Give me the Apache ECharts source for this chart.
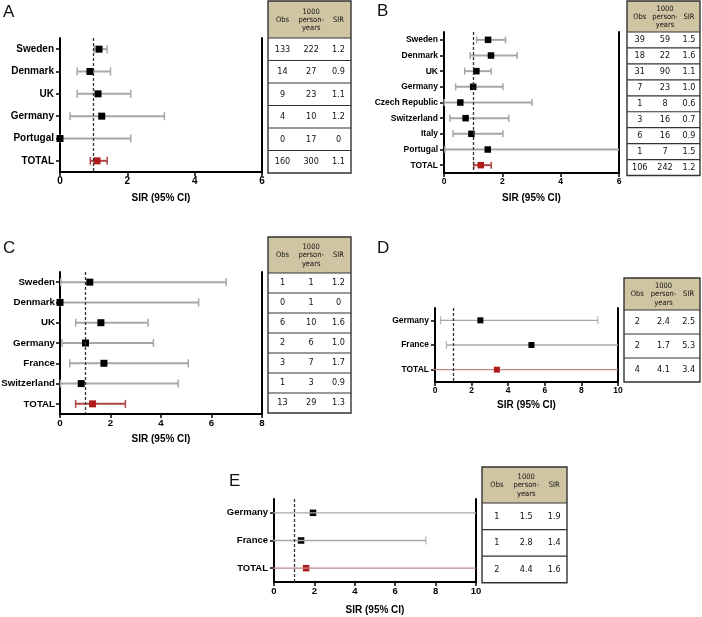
<!DOCTYPE html>
<html><head><meta charset="utf-8">
<script src="https://cdn.jsdelivr.net/npm/echarts@6/dist/echarts.min.js"></script>
<style>html,body{margin:0;padding:0;background:#fff}#c{width:702px;height:617px}</style>
</head><body><div id="c"></div>
<script>
// ---------- DATA ----------
const aCountries = ['Sweden','Denmark','UK','Germany','Portugal','TOTAL'];
const aSir  = [1.16, 0.89, 1.13, 1.24, 0, 1.1];
const aLow  = [1.02, 0.51, 0.51, 0.30, 0, 0.90];
const aHigh = [1.40, 1.50, 2.10, 3.10, 2.10, 1.40];
const aObs  = ['133','14','9','4','0','160'];
const aPy   = ['222','27','23','10','17','300'];
const aSirT = ['1.2','0.9','1.1','1.2','0','1.1'];

const bCountries = ['Sweden','Denmark','UK','Germany','Czech Republic','Switzerland','Italy','Portugal','TOTAL'];
const bSir  = [1.51, 1.61, 1.11, 1.00, 0.56, 0.74, 0.94, 1.50, 1.26];
const bLow  = [1.12, 0.90, 0.71, 0.40, 0.01, 0.20, 0.31, 0.03, 1.02];
const bHigh = [2.11, 2.51, 1.62, 2.02, 3.02, 2.22, 2.02, 8.40, 1.62];
const bObs  = ['39','18','31','7','1','3','6','1','106'];
const bPy   = ['59','22','90','23','8','16','16','7','242'];
const bSirT = ['1.5','1.6','1.1','1.0','0.6','0.7','0.9','1.5','1.2'];

const cCountries = ['Sweden','Denmark','UK','Germany','France','Switzerland','TOTAL'];
const cSir  = [1.18, 0, 1.62, 1.01, 1.74, 0.84, 1.29];
const cLow  = [0.03, 0, 0.62, 0.08, 0.39, 0.02, 0.62];
const cHigh = [6.58, 5.49, 3.49, 3.70, 5.08, 4.68, 2.59];
const cObs  = ['1','0','6','2','3','1','13'];
const cPy   = ['1','1','10','6','7','3','29'];
const cSirT = ['1.2','0','1.6','1.0','1.7','0.9','1.3'];

const dCountries = ['Germany','France','TOTAL'];
const dSir  = [2.48, 5.27, 3.38];
const dLow  = [0.31, 0.62, -0.1];
const dHigh = [8.90, 14.0, 14.0];
const dObs  = ['2','2','4'];
const dPy   = ['2.4','1.7','4.1'];
const dSirT = ['2.5','5.3','3.4'];

const eCountries = ['Germany','France','TOTAL'];
const eSir  = [1.93, 1.34, 1.59];
const eLow  = [-0.05, -0.05, -0.05];
const eHigh = [14.0, 7.52, 14.0];
const eObs  = ['1','1','2'];
const ePy   = ['1.5','2.8','4.4'];
const eSirT = ['1.9','1.4','1.6'];

const xTicksAB = [0,2,4,6];
const xTicksC  = [0,2,4,6,8];
const xTicksDE = [0,2,4,6,8,10];
const headObs = 'Obs', headPy = '1000\nperson-\nyears', headSir = 'SIR';
const axisTitle = 'SIR (95% CI)';

// ---------- LAYOUT ----------
const panels = [
  {letter:'A', lx:3, ly:4, cats:aCountries, sir:aSir, low:aLow, high:aHigh, obs:aObs, py:aPy, st:aSirT, ticks:xTicksAB,
   grid:{left:60, top:38, width:202, height:134}, fs:10, ms:7, lw:2, caps:4, barTop:false, nameGap:21, lm:6,
   table:{x:268, y:1, w:83, hh:37, rh:22.5}},
  {letter:'B', lx:377, ly:3, cats:bCountries, sir:bSir, low:bLow, high:bHigh, obs:bObs, py:bPy, st:bSirT, ticks:xTicksAB,
   grid:{left:444, top:32, width:175, height:141}, fs:8.5, ms:6.5, lw:2, caps:3.5, barTop:false, nameGap:20, lm:6,
   table:{x:627, y:1, w:73, hh:31, rh:15.95}},
  {letter:'C', lx:3, ly:240, cats:cCountries, sir:cSir, low:cLow, high:cHigh, obs:cObs, py:cPy, st:cSirT, ticks:xTicksC,
   grid:{left:60, top:272, width:202, height:142}, fs:9.7, ms:7, lw:2, caps:4, barTop:false, nameGap:20, lm:5,
   table:{x:268, y:237, w:83, hh:36, rh:20}},
  {letter:'D', lx:377, ly:240, cats:dCountries, sir:dSir, low:dLow, high:dHigh, obs:dObs, py:dPy, st:dSirT, ticks:xTicksDE,
   grid:{left:435, top:308, width:183, height:74}, fs:8.5, ms:6, lw:1.3, caps:4, barTop:false, nameGap:18, lm:6,
   table:{x:624, y:278, w:76, hh:32, rh:24}},
  {letter:'E', lx:229, ly:473, cats:eCountries, sir:eSir, low:eLow, high:eHigh, obs:eObs, py:ePy, st:eSirT, ticks:xTicksDE,
   grid:{left:274, top:499, width:202, height:83}, fs:9.5, ms:6.5, lw:1.3, caps:4, barTop:true, nameGap:23, lm:6,
   table:{x:482, y:467, w:85, hh:36, rh:26.6}}
];

const FONT = "'Liberation Sans', Arial, sans-serif";
const TFONT = "'DejaVu Sans Condensed', 'DejaVu Sans', sans-serif";
const GRAY = '#a7a7a7', RED_BAR_THICK = '#b04545', RED_BAR_THIN = '#bf8888', RED_PT = '#b01c1c';

const option = {animation:false, backgroundColor:'#fff', grid:[], xAxis:[], yAxis:[], series:[], graphic:[]};

panels.forEach((p, gi) => {
  const n = p.cats.length;
  const xmin = p.ticks[0];
  const xmax = p.ticks[p.ticks.length-1];
  option.grid.push(Object.assign({containLabel:false, outerBoundsMode:'none'}, p.grid));
  option.xAxis.push({
    type:'value', gridIndex:gi, min:xmin, max:xmax, interval:p.ticks[1]-p.ticks[0],
    splitLine:{show:false},
    axisLine:{show:true, onZero:false, lineStyle:{color:'#000', width:2}},
    axisTick:{show:true, length:4, lineStyle:{color:'#000', width:1.5}},
    axisLabel:{color:'#000', fontWeight:'bold', fontSize:p.fs, fontFamily:FONT, margin:4},
    name:axisTitle, nameLocation:'middle', nameGap:p.nameGap,
    nameTextStyle:{color:'#000', fontWeight:'bold', fontSize:10, fontFamily:FONT}
  });
  const yl = option.yAxis.length;
  option.yAxis.push({
    type:'category', gridIndex:gi, data:p.cats, inverse:true, boundaryGap:true,
    axisLine:{show:true, lineStyle:{color:'#000', width:2}},
    axisTick:{show:true, alignWithLabel:true, length:4, lineStyle:{color:'#000', width:1.5}},
    axisLabel:{color:'#000', fontWeight:'bold', fontSize:p.fs, fontFamily:FONT, margin:p.lm},
    splitLine:{show:false}
  });
  option.yAxis.push({
    type:'category', gridIndex:gi, data:p.cats, inverse:true, position:'right',
    axisLine:{show:true, lineStyle:{color:'#000', width:2}},
    axisTick:{show:false}, axisLabel:{show:false}, splitLine:{show:false}
  });

  const barData = p.cats.map((c,i) => [i, p.low[i], p.high[i]]);
  const lw = p.lw, capH = p.caps, last = n-1;
  option.series.push({
    type:'custom', xAxisIndex:gi, yAxisIndex:yl, clip:false, silent:true,
    z: p.barTop ? 4 : 2,
    encode:{x:[1,2], y:0},
    data:barData,
    renderItem:(params, api) => {
      const idx = api.value(0);
      const lo = api.value(1), hiRaw = api.value(2);
      const hi = Math.min(hiRaw, xmax);
      const p0 = api.coord([lo, idx]);
      const p1 = api.coord([hi, idx]);
      const isTot = params.dataIndex === last;
      const col = isTot ? (lw > 1.6 ? RED_BAR_THICK : RED_BAR_THIN) : GRAY;
      const style = {stroke:col, lineWidth:lw, fill:null};
      const capStyle = {stroke:col, lineWidth:Math.max(1, lw-0.5)};
      const ch = [{type:'line', shape:{x1:p0[0], y1:p0[1], x2:p1[0], y2:p1[1]}, style:style}];
      if (lo >= xmin) ch.push({type:'line', shape:{x1:p0[0], y1:p0[1]-capH, x2:p0[0], y2:p0[1]+capH}, style:capStyle});
      if (hiRaw <= xmax) ch.push({type:'line', shape:{x1:p1[0], y1:p1[1]-capH, x2:p1[0], y2:p1[1]+capH}, style:capStyle});
      return {type:'group', children:ch};
    }
  });
  option.series.push({
    type:'scatter', xAxisIndex:gi, yAxisIndex:yl, clip:false, silent:true, z:3,
    symbol:'rect', symbolSize:p.ms,
    itemStyle:{opacity:1},
    data:p.cats.map((c,i) => ({value:[p.sir[i], i], itemStyle:{color: i===last ? RED_PT : '#000', opacity:1}})),
    markLine:{silent:true, symbol:['none','none'], label:{show:false},
      lineStyle:{type:[3,2], color:'#333', width:1.3},
      data:[{xAxis:1}]}
  });

  // panel letter
  option.graphic.push({type:'text', left:p.lx, top:p.ly, silent:true,
    style:{text:p.letter, font:'17px ' + FONT, fill:'#111'}});

  // table
  const t = p.table;
  const colX = [0.175, 0.52, 0.85].map(f => t.x + f*t.w);
  const bodyTop = t.y + t.hh;
  const tBottom = bodyTop + n*t.rh;
  option.graphic.push({type:'rect', silent:true, z:10,
    shape:{x:t.x, y:t.y, width:t.w, height:t.hh}, style:{fill:'#cfc5a2', stroke:null}});
  const heads = [headObs, headPy, headSir];
  heads.forEach((h, k) => {
    option.graphic.push({type:'text', silent:true, z:12, x:colX[k], y:t.y + t.hh/2 + 0.5,
      style:{text:h, font:'7.5px ' + TFONT, fill:'#111', align:'center', verticalAlign:'middle', lineHeight:8.3}});
  });
  for (let r = 0; r < n; r++) {
    const cy = bodyTop + (r+0.5)*t.rh;
    [p.obs[r], p.py[r], p.st[r]].forEach((v,k) => {
      option.graphic.push({type:'text', silent:true, z:12, x:colX[k], y:cy,
        style:{text:v, font:'9px ' + TFONT, fill:'#111', align:'center', verticalAlign:'middle'}});
    });
    option.graphic.push({type:'line', silent:true, z:11,
      shape:{x1:t.x, y1:bodyTop + r*t.rh, x2:t.x+t.w, y2:bodyTop + r*t.rh},
      style:{stroke:'#333', lineWidth:1.2}});
  }
  option.graphic.push({type:'rect', silent:true, z:13,
    shape:{x:t.x, y:t.y, width:t.w, height:tBottom - t.y},
    style:{fill:null, stroke:'#333', lineWidth:1.4}});
});

const chart = echarts.init(document.getElementById('c'), null, {renderer:'canvas'});
chart.setOption(option);
</script>
</body></html>
